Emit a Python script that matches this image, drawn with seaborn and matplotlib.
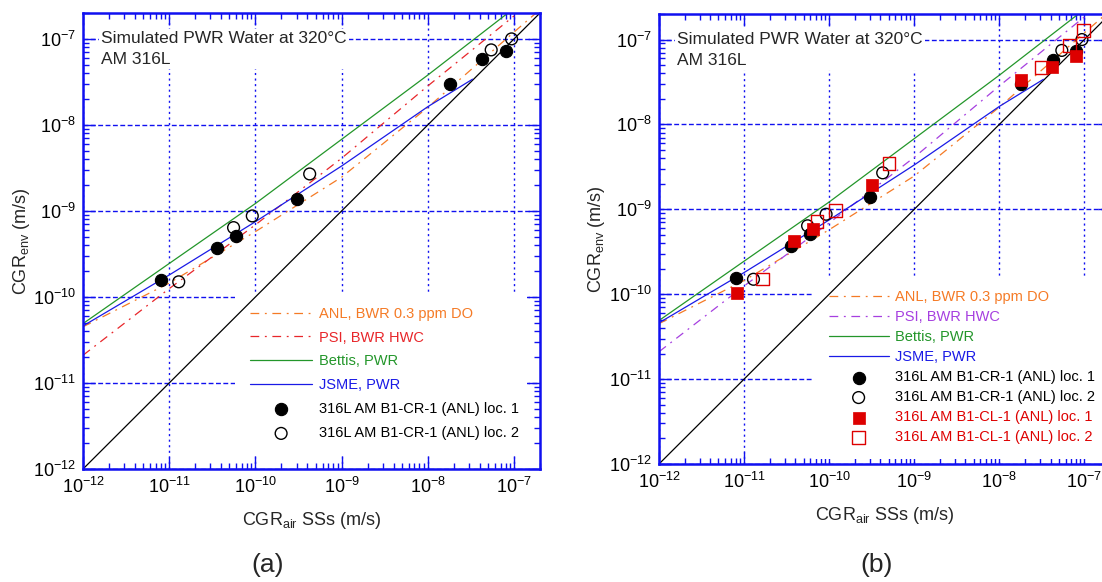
import numpy as np
import matplotlib
matplotlib.use("Agg")
import matplotlib.pyplot as plt
from matplotlib.ticker import LogLocator, NullFormatter, FixedLocator
import seaborn as sns

# ---------------- data ----------------
one_x = [1e-12, 2e-7]
one_y = [1e-12, 2e-7]

anl_x = [1e-12, 1e-11, 1e-10, 1e-9, 1e-8, 1e-7, 1.8e-7]
anl_y = [4.5e-11, 1.45e-10, 5.75e-10, 2.47e-9, 1.6e-8, 1.2e-7, 2.0e-7]

psi_x = [1e-12, 1e-11, 1e-10, 1e-9, 1e-8, 1e-7]
psi_y = [2.1e-11, 1.25e-10, 6.9e-10, 4.1e-9, 2.84e-8, 1.85e-7]

bettis_x = [1e-12, 1e-11, 1e-10, 1e-9, 1e-8, 8.5e-8]
bettis_y = [4.9e-11, 2.45e-10, 1.22e-9, 6.8e-9, 3.8e-8, 2.0e-7]

jsme_x = [1e-12, 1e-11, 1e-10, 1e-9, 1e-8, 3.3e-8]
jsme_y = [4.6e-11, 1.8e-10, 7.5e-10, 3.33e-9, 1.63e-8, 3.4e-8]

cr1_loc1_x = [8.05e-12, 3.59e-11, 5.97e-11, 3.0e-10, 1.79e-8, 4.3e-8, 7.98e-8]
cr1_loc1_y = [1.57e-10, 3.66e-10, 5.13e-10, 1.38e-9, 3.0e-8, 5.8e-8, 7.3e-8]
cr1_loc2_x = [1.29e-11, 5.58e-11, 9.2e-11, 4.26e-10, 5.43e-8, 9.36e-8]
cr1_loc2_y = [1.5e-10, 6.4e-10, 8.75e-10, 2.69e-9, 7.45e-8, 1.0e-7]
cl1_loc1_x = [8.3e-12, 3.82e-11, 6.43e-11, 3.16e-10, 1.82e-8, 4.15e-8, 8.05e-8]
cl1_loc1_y = [1.03e-10, 4.28e-10, 5.9e-10, 1.92e-9, 3.34e-8, 4.74e-8, 6.38e-8]
cl1_loc2_x = [1.63e-11, 7.2e-11, 1.19e-10, 5.04e-10, 3.12e-8, 6.73e-8, 9.76e-8]
cl1_loc2_y = [1.51e-10, 7.14e-10, 9.6e-10, 3.44e-9, 4.65e-8, 8.5e-8, 1.27e-7]

labels_lines = ["ANL, BWR 0.3 ppm DO", "PSI, BWR HWC", "Bettis, PWR", "JSME, PWR"]
labels_pts = ["316L AM B1-CR-1 (ANL) loc. 1", "316L AM B1-CR-1 (ANL) loc. 2",
              "316L AM B1-CL-1 (ANL) loc. 1", "316L AM B1-CL-1 (ANL) loc. 2"]
annot = "Simulated PWR Water at 320\u00b0C\nAM 316L"
axis_lim = (1e-12, 2e-7)
major_ticks = [1e-12, 1e-11, 1e-10, 1e-9, 1e-8, 1e-7]

# ---------------- style ----------------
sns.set_style("ticks")
plt.rcParams.update({
    "font.family": ["Liberation Sans", "DejaVu Sans"],
    "mathtext.fontset": "custom",
    "mathtext.rm": "Liberation Sans",
    "mathtext.it": "Liberation Sans:italic",
    "mathtext.bf": "Liberation Sans:bold",
    "axes.unicode_minus": False,
})

BLUE_AX = "#1010F0"
C_ANL = "#F57A25"
C_PSI_A = "#E8262A"
C_PSI_B = "#A63FE0"
C_BET = "#23962A"
C_JSME = "#1A1AE6"
C_RED = "#DD0000"
DASHDOT = (0, (7, 4.5, 1.5, 4.5))

fig = plt.figure(figsize=(11.02, 5.82), dpi=100)
W, H = 1102, 582
ax_a = fig.add_axes([83 / W, 1 - 469 / H, 457 / W, 456 / H])
ax_b = fig.add_axes([659 / W, 1 - 464 / H, 451 / W, 450 / H])


def panel(ax, psi_color, with_cl, leg_box, labelspacing, handlelength):
    ax.set_xscale("log")
    ax.set_yscale("log")
    handles = []
    sns.lineplot(x=one_x, y=one_y, ax=ax, color="black", lw=0.9,
                 sort=False, estimator=None, zorder=2)
    sns.lineplot(x=anl_x, y=anl_y, ax=ax, color=C_ANL, lw=0.9,
                 sort=False, estimator=None, linestyle=DASHDOT, zorder=2)
    handles.append(ax.lines[-1])
    sns.lineplot(x=psi_x, y=psi_y, ax=ax, color=psi_color, lw=0.9,
                 sort=False, estimator=None, linestyle=DASHDOT, zorder=2)
    handles.append(ax.lines[-1])
    sns.lineplot(x=bettis_x, y=bettis_y, ax=ax, color=C_BET, lw=0.9,
                 sort=False, estimator=None, zorder=2)
    handles.append(ax.lines[-1])
    sns.lineplot(x=jsme_x, y=jsme_y, ax=ax, color=C_JSME, lw=0.9,
                 sort=False, estimator=None, zorder=2)
    handles.append(ax.lines[-1])

    sns.scatterplot(x=cr1_loc1_x, y=cr1_loc1_y, ax=ax, marker="o", s=78,
                    color="black", edgecolor="black", linewidth=0.8, zorder=3)
    handles.append(ax.collections[-1])
    sns.scatterplot(x=cr1_loc2_x, y=cr1_loc2_y, ax=ax, marker="o", s=72,
                    facecolor="none", edgecolor="black", linewidth=1.0, zorder=3)
    handles.append(ax.collections[-1])
    text_colors = [C_ANL, psi_color, C_BET, C_JSME, "black", "black"]
    labs = labels_lines + labels_pts[:2]
    if with_cl:
        sns.scatterplot(x=cl1_loc1_x, y=cl1_loc1_y, ax=ax, marker="s", s=85,
                        color=C_RED, edgecolor=C_RED, linewidth=0.5, zorder=3)
        handles.append(ax.collections[-1])
        sns.scatterplot(x=cl1_loc2_x, y=cl1_loc2_y, ax=ax, marker="s", s=85,
                        facecolor="none", edgecolor=C_RED, linewidth=1.0, zorder=3)
        handles.append(ax.collections[-1])
        text_colors += [C_RED, C_RED]
        labs = labs + labels_pts[2:]

    ax.set_xlim(*axis_lim)
    ax.set_ylim(*axis_lim)
    for axis in (ax.xaxis, ax.yaxis):
        axis.set_major_locator(FixedLocator(major_ticks))
        axis.set_minor_locator(LogLocator(base=10, subs=np.arange(2, 10), numticks=30))
        axis.set_minor_formatter(NullFormatter())
    ax.tick_params(which="both", direction="in", top=True, right=True,
                   color=BLUE_AX, labelcolor="black", labelsize=13)
    ax.tick_params(which="major", length=8.5, width=1.0)
    ax.tick_params(which="minor", length=4, width=1.0)
    ax.tick_params(axis="y", which="major", pad=5)
    ax.tick_params(axis="x", which="major", pad=6)
    for sp in ax.spines.values():
        sp.set_color(BLUE_AX)
        sp.set_linewidth(1.8)
        sp.set_zorder(4)
    ax.set_axisbelow(True)
    ax.grid(True, which="major", axis="x", color=BLUE_AX, lw=1.0, ls=(0, (1.5, 2.5)))
    ax.grid(True, which="major", axis="y", color=BLUE_AX, lw=1.0, ls=(0, (3.5, 1.8)))

    ax.set_xlabel(r"CGR$_\mathregular{air}$ SSs (m/s)", fontsize=13, labelpad=9)
    ax.set_ylabel(r"CGR$_\mathregular{env}$ (m/s)", fontsize=13)

    ax.text(0.04, 0.961, annot, transform=ax.transAxes, ha="left", va="top",
            fontsize=12.5, linespacing=1.55, zorder=1.5,
            bbox=dict(facecolor="white", edgecolor="none", pad=1.5))

    leg = ax.legend(handles, labs, loc="upper left", bbox_to_anchor=leg_box,
                    mode="expand", borderaxespad=0, borderpad=1.0, frameon=True,
                    fancybox=False, framealpha=1, facecolor="white", edgecolor="none",
                    fontsize=10.5, handlelength=handlelength, handletextpad=0.45,
                    labelspacing=labelspacing, scatterpoints=1)
    for t, c in zip(leg.get_texts(), text_colors):
        t.set_color(c)
    leg.set_zorder(1.5)


panel(ax_a, C_PSI_A, False, (0.333, 0.0, 0.638, 0.388), 0.68, 4.3)
panel(ax_b, C_PSI_B, True, (0.344, 0.0, 0.64, 0.418), 0.41, 4.1)

ax_a.yaxis.set_label_coords(-0.112, 0.5)
ax_b.yaxis.set_label_coords(-0.115, 0.5)

fig.text(268 / W, 1 - 565 / H, "(a)", ha="center", va="center", fontsize=19)
fig.text(877 / W, 1 - 565 / H, "(b)", ha="center", va="center", fontsize=19)

fig.savefig("out.png", dpi=100)
